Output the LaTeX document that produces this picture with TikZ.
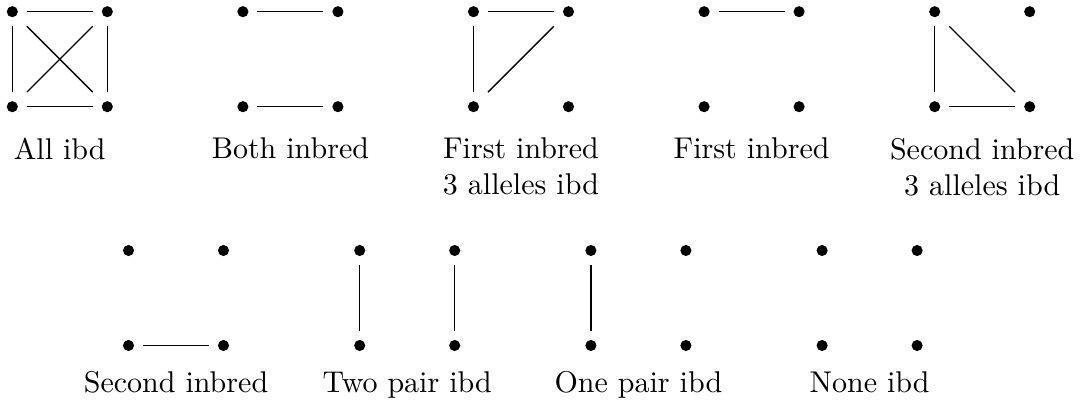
\documentclass[tikz,border=0pt]{standalone}
\begin{document}
\begin{tikzpicture}[x=0.3333pt, y=-0.3333pt,
  vtx/.style={rectangle, inner sep=0pt, minimum size=9.33pt,
    path picture={\fill[black] (path picture bounding box.center) circle (1.85pt);}},
  edge/.style={line width=0.45pt},
  caption/.style={anchor=north, inner sep=0pt, align=center}]
\useasboundingbox (0,0) rectangle (1086,405);

% four vertices of one configuration: prefix, left x, top y
\newcommand\vquad[3]{%
  \node[vtx] (#1tl) at (#2,#3) {};
  \node[vtx] (#1tr) at (#2+95,#3) {};
  \node[vtx] (#1bl) at (#2,#3+95) {};
  \node[vtx] (#1br) at (#2+95,#3+95) {};
}

% top row
\vquad{a}{12.3}{11.7}
\vquad{b}{242.9}{11.7}
\vquad{c}{473.5}{11.7}
\vquad{d}{704.1}{11.7}
\vquad{e}{934.7}{11.7}

% bottom row
\vquad{f}{128.5}{250.5}
\vquad{g}{359.7}{250.5}
\vquad{h}{590.9}{250.5}
\vquad{k}{822.1}{250.5}

% All ibd
\draw[edge] (atl) -- (atr);
\draw[edge] (abl) -- (abr);
\draw[edge] (atl) -- (abl);
\draw[edge] (atr) -- (abr);
\draw[edge] (atl) -- (abr);
\draw[edge] (atr) -- (abl);
% Both inbred
\draw[edge] (btl) -- (btr);
\draw[edge] (bbl) -- (bbr);
% First inbred, 3 alleles ibd
\draw[edge] (ctl) -- (ctr);
\draw[edge] (ctl) -- (cbl);
\draw[edge] (ctr) -- (cbl);
% First inbred
\draw[edge] (dtl) -- (dtr);
% Second inbred, 3 alleles ibd
\draw[edge] (etl) -- (ebl);
\draw[edge] (ebl) -- (ebr);
\draw[edge] (etl) -- (ebr);
% Second inbred
\draw[edge] (fbl) -- (fbr);
% Two pair ibd
\draw[edge] (gtl) -- (gbl);
\draw[edge] (gtr) -- (gbr);
% One pair ibd
\draw[edge] (htl) -- (hbl);

% captions
\node[caption] (la) at (59.8,137.5) {All ibd};
\node[caption] (lb) at (290.4,137.5) {Both inbred};
\node[caption] (lc) at (521.0,137.5) {First inbred\\3 alleles ibd};
\node[caption] (ld) at (751.6,137.5) {First inbred};
\node[caption] (le) at (982.2,137.5) {Second inbred\\3 alleles ibd};
\node[caption] (lf) at (176.0,371) {Second inbred};
\node[caption] (lg) at (407.2,371) {Two pair ibd};
\node[caption] (lh) at (638.4,371) {One pair ibd};
\node[caption] (lk) at (869.6,371) {None ibd};
\end{tikzpicture}
\end{document}
